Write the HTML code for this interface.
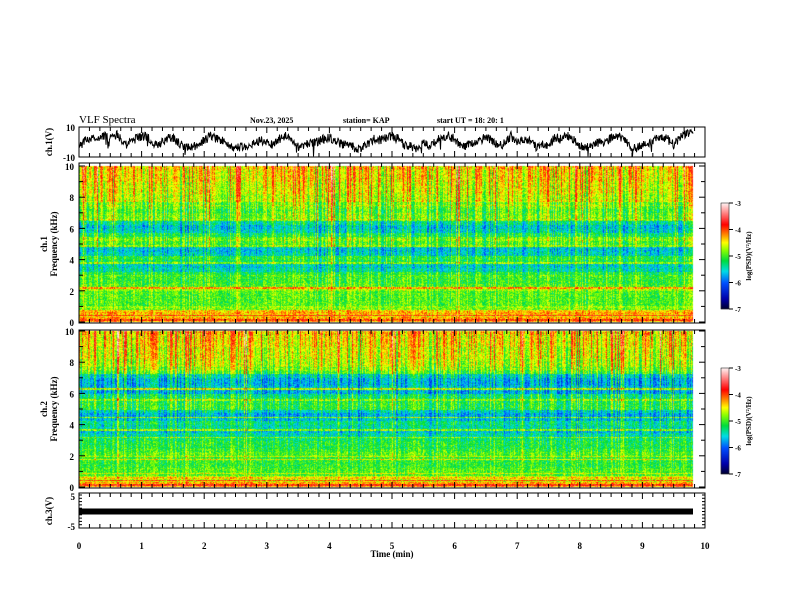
<!DOCTYPE html>
<html><head><meta charset="utf-8"><style>
body{margin:0;background:#fff;width:792px;height:612px;overflow:hidden;font-family:"Liberation Serif",serif}
#wrap{position:relative;width:792px;height:612px}
canvas{position:absolute;left:0;top:0}
</style></head><body>
<div id="wrap">
<canvas id="spec" width="792" height="612"></canvas>
<svg id="ov" width="792" height="612" style="position:absolute;left:0;top:0"></svg>
</div>
<script>
// ---- data ----
const timeTicks=[0,1,2,3,4,5,6,7,8,9,10];
const freqTicks=[0,2,4,6,8,10];
const cbTicks=[-3,-4,-5,-6,-7];
// ch1 waveform (V), sampled every 0.1 min, 0..9.8
const ch1=[-3,1,3,2,4,2,5,1,-1,2,4,3,-2,-1,2,3,-1,-4,-3,-2,1,4,2,1,-2,-4,-3,-3,-1,1,0,-2,2,4,1,-3,-2,-1,0,2,3,1,-2,-1,-4,-5,-2,2,1,3,4,2,-2,-3,-4,-1,-3,1,3,4,2,-3,-2,0,1,3,0,-3,-1,4,-1,2,1,-3,-2,-3,3,3,4,2,-2,-4,-3,0,-1,3,4,2,-3,-4,-2,-1,1,4,2,-2,3,5,6];
// spectral band levels log10 PSD per 0.25 kHz (0..10 kHz)
const band1=[-4.3,-4.5,-4.4,-4.9,-5.0,-5.0,-5.0,-5.0,-4.8,-5.0,-5.1,-5.1,-5.2,-5.5,-5.6,-5.3,-5.2,-5.6,-5.7,-5.6,-5.1,-5.0,-5.3,-5.6,-5.7,-5.5,-5.0,-5.0,-5.1,-5.0,-5.0,-4.8,-4.8,-4.7,-4.7,-4.7,-4.6,-4.6,-4.6,-4.5];
const band2=[-4.3,-4.6,-4.7,-5.0,-5.0,-5.1,-5.1,-5.1,-5.0,-5.1,-5.2,-5.2,-5.3,-5.5,-5.7,-5.5,-5.4,-5.7,-5.8,-5.6,-5.2,-5.2,-5.3,-5.4,-5.8,-5.7,-5.8,-5.8,-5.6,-5.1,-5.0,-4.8,-4.8,-4.7,-4.7,-4.7,-4.6,-4.6,-4.6,-4.5];
// narrowband lines (kHz, level)
const lines1F=[0.15,0.3,0.45,0.6,0.75,1.0,2.2,3.0,3.8,4.9,5.3,6.6,7.5,7.8];
const lines1V=[-4.0,-4.3,-3.9,-4.3,-4.4,-4.8,-4.3,-5.0,-4.9,-4.9,-4.9,-4.8,-4.8,-4.7];
const lines2F=[0.15,0.3,0.45,0.6,0.9,1.8,2.0,3.2,3.7,4.5,5.6,6.3,7.6,8.2];
const lines2V=[-3.9,-4.3,-4.0,-4.4,-4.6,-4.6,-4.7,-4.9,-4.9,-4.9,-4.9,-4.8,-4.9,-4.8];
// impulsive burst intensity per 0.1 min
const burst1=[0.6,0.3,0.8,0.4,0.7,0.5,0.3,0.4,0.2,0.5,0.6,0.4,0.3,0.4,0.5,0.3,0.3,0.3,0.4,0.6,0.9,0.5,0.6,0.4,0.5,0.5,0.4,0.3,0.3,0.2,0.4,0.3,0.5,0.3,0.4,0.4,0.3,0.3,0.4,0.5,0.9,0.4,0.3,0.5,0.3,0.3,0.4,0.3,0.5,0.4,0.5,0.3,0.4,0.3,0.3,0.4,0.6,0.4,0.3,0.5,0.6,0.4,0.3,0.4,0.3,0.3,0.5,0.4,0.7,0.4,0.3,0.4,0.3,0.3,0.4,0.3,0.5,0.4,0.3,0.5,0.4,0.3,0.3,0.4,0.5,0.3,0.4,0.5,0.6,0.4,0.3,0.4,0.5,0.3,0.4,0.5,0.6,0.4];
const burst2=[0.4,0.5,0.3,0.4,0.6,0.5,0.9,0.8,0.5,0.3,0.4,0.6,0.4,0.3,0.5,0.4,0.3,0.6,0.4,0.3,0.8,0.4,0.5,0.3,0.4,0.3,0.7,0.4,0.3,0.3,0.5,0.3,0.3,0.4,0.3,0.3,0.4,0.3,0.5,0.3,0.4,0.8,0.7,0.4,0.3,0.3,0.4,0.3,0.4,0.4,0.9,0.4,0.3,0.3,0.4,0.3,0.3,0.4,0.3,0.5,0.7,0.4,0.3,0.3,0.4,0.3,0.4,0.3,0.4,0.5,0.6,0.3,0.4,0.3,0.3,0.4,0.3,0.3,0.4,0.3,0.5,0.3,0.4,0.3,0.4,0.4,0.8,0.5,0.4,0.3,0.4,0.3,0.8,0.4,0.4,0.3,0.5,0.4];
const ch3=[0];

// ---- geometry ----
const X0=79,X1=705,XD=693;
const xs=t=>X0+(X1-X0)*t/10;
const P1={top:166,bot:322},P2={top:331,bot:487};
const TS={top:127,bot:157,min:-10,max:10};
const C3={top:495,bot:528,min:-5,max:5};

function hash(a,b){let h=a*374761393+b*668265263;h=(h^(h>>>13))*1274126177;h=h^(h>>>16);return ((h>>>0)%10000)/10000;}
const stops=[[0,[0,0,40]],[0.1,[0,0,170]],[0.25,[0,80,255]],[0.36,[0,220,230]],[0.46,[0,220,60]],[0.56,[140,255,0]],[0.63,[255,255,0]],[0.71,[255,130,0]],[0.8,[255,0,0]],[0.9,[255,120,120]],[1,[255,240,240]]];
function cmap(v){let t=Math.max(0,Math.min(1,(v+7)/4));for(let i=1;i<stops.length;i++){if(t<=stops[i][0]){const a=stops[i-1],b=stops[i];const f=(t-a[0])/(b[0]-a[0]);return a[1].map((c,k)=>Math.round(c+(b[1][k]-c)*f));}}return stops[stops.length-1][1];}

const ctx=document.getElementById('spec').getContext('2d');
function drawSpec(P,band,lf,lv,burst,seed){
  const H=P.bot-P.top,W=XD-X0;
  const img=ctx.createImageData(W,H);
  for(let x=0;x<W;x++){
    const t=x/(X1-X0)*10; const bi=Math.min(burst.length-1,Math.floor(t*10));
    const cn=hash(x,seed);
    const colv=(hash(x,seed+3)-0.5)*0.6;
    const b=burst[bi]*(cn>0.7?1.3:0.15);
    for(let y=0;y<H;y++){
      const f=(H-y)/H*10; const ri=Math.min(band.length-1,Math.floor(f/0.25));
      let v=band[ri];
      for(let k=0;k<lf.length;k++){if(Math.abs(f-lf[k])<0.05)v=Math.max(v,lv[k]);}
      v+= (hash(x,y+seed*7)-0.5)*0.6 + colv*(0.5+f/10) + b*(0.2+f/10)*0.9;
      const c=cmap(v);const i=(y*W+x)*4;
      img.data[i]=c[0];img.data[i+1]=c[1];img.data[i+2]=c[2];img.data[i+3]=255;
    }
  }
  ctx.putImageData(img,X0,P.top);
}
drawSpec(P1,band1,lines1F,lines1V,burst1,11);
drawSpec(P2,band2,lines2F,lines2V,burst2,23);

// colorbars
function cbar(top,bot){
  for(let y=top;y<bot;y++){const v=-3-4*(y-top)/(bot-top);const c=cmap(v);ctx.fillStyle=`rgb(${c})`;ctx.fillRect(721,y,8,1);}
}
cbar(203,309);cbar(368,474);

// ---- svg ----
const NS='http://www.w3.org/2000/svg';const svg=document.getElementById('ov');
function el(tag,attrs,parent){const e=document.createElementNS(NS,tag);for(const k in attrs)e.setAttribute(k,attrs[k]);(parent||svg).appendChild(e);return e;}
function txt(x,y,s,attrs,name){const e=el('text',Object.assign({x:x,y:y,'font-family':'Liberation Serif, serif','font-size':9,'font-weight':'bold',fill:'#000'},attrs||{}));e.textContent=s;


return e;}

// frames
const frames=[[TS.top,TS.bot,'ch1-panel'],[163,323,'ch1-spectrogram-panel'],[330,488,'ch2-spectrogram-panel'],[C3.top-2,C3.bot,'ch3-panel']];
frames.forEach(f=>{const r=el('rect',{x:X0,y:f[0],width:X1-X0,height:f[1]-f[0],fill:'none',stroke:'#000','stroke-width':1});


for(let s=0;s<=60;s++){const x=xs(s/6);const L=(s%6==0)?6:4;
el('line',{x1:x,x2:x,y1:f[0],y2:f[0]+L,stroke:'#000'});el('line',{x1:x,x2:x,y1:f[1],y2:f[1]-L,stroke:'#000'});}
});

// ch1 waveform
let d='';const W0=XD-X0;
for(let x=0;x<=W0;x+=0.5){const t=x/(X1-X0)*10;const i=Math.min(ch1.length-2,Math.floor(t*10));const fr=t*10-i;
const xi=Math.floor(x*2);
let v=ch1[i]+(ch1[i+1]-ch1[i])*fr+(hash(xi,5)-0.5)*6+(hash(xi,9)>0.985?-7:0);
v=Math.max(-9.5,Math.min(9.5,v));const y=TS.top+(TS.max-v)/(TS.max-TS.min)*(TS.bot-TS.top);d+=(x?'L':'M')+(X0+x)+' '+y.toFixed(1);}
const wf=el('path',{d:d,fill:'none',stroke:'#000','stroke-width':1});


txt(75,131,'10',{'text-anchor':'end'},'ch1-ytick-top');txt(75,161,'-10',{'text-anchor':'end'},'ch1-ytick-bottom');
txt(52,142,'ch.1(V)',{'text-anchor':'middle',transform:'rotate(-90 52 142)'},'ch1-y-title');

// spectrogram y axes
[[P1,'ch.1','ch1'],[P2,'ch.2','ch2']].forEach(([P,lab,n])=>{
  freqTicks.forEach(f=>{const y=P.bot-(P.bot-P.top)*f/10;txt(74,y+4,String(f),{'text-anchor':'end'},n+'-freq-tick');
  });
  for(let f=0;f<=10;f+=1){const y=P.bot-(P.bot-P.top)*f/10;const L=f%2==0?6:4;el('line',{x1:X0,x2:X0+L,y1:y,y2:y,stroke:'#000'});el('line',{x1:X1,x2:X1-L,y1:y,y2:y,stroke:'#000'});}
  const cy=(P.top+P.bot)/2;
  txt(47,cy,lab,{'text-anchor':'middle',transform:`rotate(-90 47 ${cy})`},n+'-y-title-1');
  txt(57,cy,'Frequency (kHz)',{'text-anchor':'middle',transform:`rotate(-90 57 ${cy})`},n+'-y-title-2');
});

// colorbar axes
[[203,309,'cb1'],[368,474,'cb2']].forEach(([t,b,n])=>{
  el('rect',{x:721,y:t,width:8,height:b-t,fill:'none',stroke:'#000','stroke-width':0.5});
  cbTicks.forEach((v,i)=>{const y=t+(b-t)*i/4;el('line',{x1:729,x2:733,y1:y,y2:y,stroke:'#000'});txt(735,y+3,String(v),{'font-size':7},n+'-tick');});
  const cy=(t+b)/2;txt(751,cy,'log(PSD)(V²/Hz)',{'text-anchor':'middle','font-size':7,transform:`rotate(-90 751 ${cy})`},n+'-title');
});

// ch3
const yc=v=>C3.top+(C3.max-v)/(C3.max-C3.min)*(C3.bot-C3.top);
const bar=el('rect',{x:X0,y:yc(ch3[0])-3,width:XD-X0,height:6,fill:'#000'});


txt(75,500,'5',{'text-anchor':'end'},'ch3-ytick-top');txt(75,530,'-5',{'text-anchor':'end'},'ch3-ytick-bottom');
for(let v=-5;v<=5;v+=1){const y=yc(v);el('line',{x1:X0,x2:X0+3,y1:y,y2:y,stroke:'#000'});el('line',{x1:X1,x2:X1-3,y1:y,y2:y,stroke:'#000'});}
txt(52,511,'ch.3(V)',{'text-anchor':'middle',transform:'rotate(-90 52 511)'},'ch3-y-title');

// x axis
timeTicks.forEach(t=>txt(xs(t),549,String(t),{'text-anchor':'middle'},'time-tick'));
txt(392,557,'Time  (min)',{'text-anchor':'middle'},'x-axis-title');

// header
txt(79,123,'VLF Spectra',{'font-size':11,'font-weight':'normal'},'chart-title');
txt(250,123,'Nov.23, 2025',{'font-size':8},'date-label');
txt(343,123,'station= KAP',{'font-size':8},'station-label');
txt(437,123,'start  UT  =   18: 20: 1',{'font-size':8},'start-time-label');
</script>
</body></html>
